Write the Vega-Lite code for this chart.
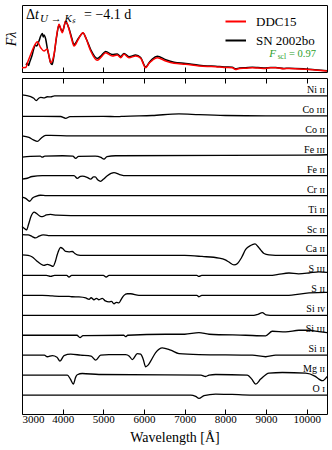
{
 "$schema": "https://vega.github.io/schema/vega-lite/v6.json",
 "padding": {"left": 3, "top": 4, "right": 4, "bottom": 0},
 "background": "white",
 "config": {
  "view": {"stroke": "black", "strokeWidth": 1},
  "font": "Liberation Serif",
  "axis": {"grid": false, "domain": false, "labelFont": "Liberation Serif", "titleFont": "Liberation Serif", "titleFontWeight": "normal", "labelColor": "black", "titleColor": "black", "tickColor": "black"},
  "concat": {"spacing": 2}
 },
 "datasets": {
  "spectra": [
   {"model":"DDC15","wl":3000,"flux":4.3},{"model":"DDC15","wl":3090,"flux":4.5},{"model":"DDC15","wl":3150,"flux":11},{"model":"DDC15","wl":3213,"flux":17.5},{"model":"DDC15","wl":3300,"flux":26},{"model":"DDC15","wl":3377,"flux":30.3},{"model":"DDC15","wl":3459,"flux":24.3},{"model":"DDC15","wl":3541,"flux":21},{"model":"DDC15","wl":3622,"flux":23},{"model":"DDC15","wl":3705,"flux":9.3},{"model":"DDC15","wl":3787,"flux":17.5},{"model":"DDC15","wl":3850,"flux":36},{"model":"DDC15","wl":3910,"flux":47.7},{"model":"DDC15","wl":3991,"flux":39.3},{"model":"DDC15","wl":4074,"flux":51},{"model":"DDC15","wl":4156,"flux":42.7},{"model":"DDC15","wl":4220,"flux":33},{"model":"DDC15","wl":4279,"flux":26},{"model":"DDC15","wl":4385,"flux":32.7},{"model":"DDC15","wl":4500,"flux":39.3},{"model":"DDC15","wl":4582,"flux":32.7},{"model":"DDC15","wl":4689,"flux":21},{"model":"DDC15","wl":4852,"flux":11.7},{"model":"DDC15","wl":4950,"flux":15},{"model":"DDC15","wl":5057,"flux":19.3},{"model":"DDC15","wl":5221,"flux":16},{"model":"DDC15","wl":5344,"flux":17},{"model":"DDC15","wl":5426,"flux":14.3},{"model":"DDC15","wl":5508,"flux":17.7},{"model":"DDC15","wl":5631,"flux":14.3},{"model":"DDC15","wl":5795,"flux":16},{"model":"DDC15","wl":5918,"flux":13.7},{"model":"DDC15","wl":6041,"flux":4.3},{"model":"DDC15","wl":6130,"flux":9},{"model":"DDC15","wl":6205,"flux":11.7},{"model":"DDC15","wl":6328,"flux":14.3},{"model":"DDC15","wl":6533,"flux":11},{"model":"DDC15","wl":6738,"flux":8.7},{"model":"DDC15","wl":7025,"flux":7.7},{"model":"DDC15","wl":7352,"flux":6},{"model":"DDC15","wl":7557,"flux":5.5},{"model":"DDC15","wl":7762,"flux":5.3},{"model":"DDC15","wl":7967,"flux":4.5},{"model":"DDC15","wl":8172,"flux":4.3},{"model":"DDC15","wl":8250,"flux":2.5},{"model":"DDC15","wl":8350,"flux":3.5},{"model":"DDC15","wl":8500,"flux":3.8},{"model":"DDC15","wl":8664,"flux":4.3},{"model":"DDC15","wl":8800,"flux":4},{"model":"DDC15","wl":8992,"flux":3.5},{"model":"DDC15","wl":9115,"flux":4.3},{"model":"DDC15","wl":9238,"flux":4.3},{"model":"DDC15","wl":9442,"flux":3.3},{"model":"DDC15","wl":9565,"flux":3.5},{"model":"DDC15","wl":9975,"flux":2.7},{"model":"DDC15","wl":10200,"flux":2},{"model":"DDC15","wl":10500,"flux":1},
   {"model":"SN 2002bo","wl":3100,"flux":7},{"model":"SN 2002bo","wl":3130,"flux":9},{"model":"SN 2002bo","wl":3160,"flux":6.5},{"model":"SN 2002bo","wl":3190,"flux":10},{"model":"SN 2002bo","wl":3213,"flux":12.5},{"model":"SN 2002bo","wl":3250,"flux":17},{"model":"SN 2002bo","wl":3295,"flux":24},{"model":"SN 2002bo","wl":3330,"flux":27},{"model":"SN 2002bo","wl":3360,"flux":26},{"model":"SN 2002bo","wl":3418,"flux":31},{"model":"SN 2002bo","wl":3460,"flux":36},{"model":"SN 2002bo","wl":3500,"flux":38.5},{"model":"SN 2002bo","wl":3520,"flux":35},{"model":"SN 2002bo","wl":3540,"flux":37},{"model":"SN 2002bo","wl":3582,"flux":33},{"model":"SN 2002bo","wl":3630,"flux":22},{"model":"SN 2002bo","wl":3664,"flux":16},{"model":"SN 2002bo","wl":3705,"flux":9},{"model":"SN 2002bo","wl":3740,"flux":7.5},{"model":"SN 2002bo","wl":3787,"flux":16.5},{"model":"SN 2002bo","wl":3850,"flux":35},{"model":"SN 2002bo","wl":3910,"flux":47},{"model":"SN 2002bo","wl":3950,"flux":43.5},{"model":"SN 2002bo","wl":3991,"flux":40.5},{"model":"SN 2002bo","wl":4074,"flux":50},{"model":"SN 2002bo","wl":4156,"flux":43.5},{"model":"SN 2002bo","wl":4220,"flux":34.5},{"model":"SN 2002bo","wl":4279,"flux":27.5},{"model":"SN 2002bo","wl":4385,"flux":33.5},{"model":"SN 2002bo","wl":4500,"flux":39},{"model":"SN 2002bo","wl":4582,"flux":33},{"model":"SN 2002bo","wl":4689,"flux":22.5},{"model":"SN 2002bo","wl":4852,"flux":13.5},{"model":"SN 2002bo","wl":4950,"flux":16.5},{"model":"SN 2002bo","wl":5057,"flux":20.5},{"model":"SN 2002bo","wl":5221,"flux":17.5},{"model":"SN 2002bo","wl":5344,"flux":18},{"model":"SN 2002bo","wl":5426,"flux":15.5},{"model":"SN 2002bo","wl":5508,"flux":18.5},{"model":"SN 2002bo","wl":5631,"flux":15.3},{"model":"SN 2002bo","wl":5795,"flux":17},{"model":"SN 2002bo","wl":5918,"flux":14.5},{"model":"SN 2002bo","wl":6041,"flux":5},{"model":"SN 2002bo","wl":6130,"flux":9.5},{"model":"SN 2002bo","wl":6205,"flux":13},{"model":"SN 2002bo","wl":6328,"flux":15.8},{"model":"SN 2002bo","wl":6533,"flux":12.3},{"model":"SN 2002bo","wl":6738,"flux":9.8},{"model":"SN 2002bo","wl":7025,"flux":8.6},{"model":"SN 2002bo","wl":7352,"flux":6.8},{"model":"SN 2002bo","wl":7557,"flux":6.1},{"model":"SN 2002bo","wl":7762,"flux":5.8},{"model":"SN 2002bo","wl":7967,"flux":5},{"model":"SN 2002bo","wl":8172,"flux":4.8},{"model":"SN 2002bo","wl":8250,"flux":3.2},{"model":"SN 2002bo","wl":8350,"flux":4},{"model":"SN 2002bo","wl":8500,"flux":4.3},{"model":"SN 2002bo","wl":8664,"flux":4.7},{"model":"SN 2002bo","wl":8800,"flux":4.4},{"model":"SN 2002bo","wl":8992,"flux":3.9},{"model":"SN 2002bo","wl":9115,"flux":4.6},{"model":"SN 2002bo","wl":9238,"flux":4.6},{"model":"SN 2002bo","wl":9442,"flux":3.6},{"model":"SN 2002bo","wl":9565,"flux":3.8},{"model":"SN 2002bo","wl":9975,"flux":3},{"model":"SN 2002bo","wl":10200,"flux":2.3},{"model":"SN 2002bo","wl":10500,"flux":1.3}
  ],
  "ions": [
   {"ion":"Ni II","wl":3000,"f":16.05},{"ion":"Ni II","wl":3150,"f":16.0},{"ion":"Ni II","wl":3213,"f":15.97},{"ion":"Ni II","wl":3290,"f":15.88},{"ion":"Ni II","wl":3352,"f":15.77},{"ion":"Ni II","wl":3420,"f":15.9},{"ion":"Ni II","wl":3460,"f":15.93},{"ion":"Ni II","wl":3540,"f":15.9},{"ion":"Ni II","wl":3622,"f":15.96},{"ion":"Ni II","wl":3705,"f":15.95},{"ion":"Ni II","wl":3800,"f":16},{"ion":"Ni II","wl":4000,"f":16},{"ion":"Ni II","wl":10500,"f":16},
   {"ion":"Co III","wl":3000,"f":14.98},{"ion":"Co III","wl":3500,"f":14.98},{"ion":"Co III","wl":3950,"f":14.97},{"ion":"Co III","wl":4074,"f":14.88},{"ion":"Co III","wl":4180,"f":14.96},{"ion":"Co III","wl":5000,"f":14.98},{"ion":"Co III","wl":5361,"f":14.96},{"ion":"Co III","wl":5500,"f":14.98},{"ion":"Co III","wl":6200,"f":15.02},{"ion":"Co III","wl":6860,"f":15.1},{"ion":"Co III","wl":7352,"f":15.06},{"ion":"Co III","wl":8000,"f":15.02},{"ion":"Co III","wl":9000,"f":15.0},{"ion":"Co III","wl":10500,"f":15.0},
   {"ion":"Co II","wl":3000,"f":14.0},{"ion":"Co II","wl":3172,"f":13.92},{"ion":"Co II","wl":3280,"f":13.8},{"ion":"Co II","wl":3377,"f":13.72},{"ion":"Co II","wl":3470,"f":13.88},{"ion":"Co II","wl":3582,"f":14.02},{"ion":"Co II","wl":3700,"f":14.02},{"ion":"Co II","wl":4200,"f":14},{"ion":"Co II","wl":10500,"f":14},
   {"ion":"Fe III","wl":3000,"f":12.93},{"ion":"Fe III","wl":3200,"f":12.97},{"ion":"Fe III","wl":3450,"f":12.98},{"ion":"Fe III","wl":3500,"f":12.93},{"ion":"Fe III","wl":3560,"f":12.98},{"ion":"Fe III","wl":4000,"f":13},{"ion":"Fe III","wl":4250,"f":12.98},{"ion":"Fe III","wl":4320,"f":12.87},{"ion":"Fe III","wl":4390,"f":12.97},{"ion":"Fe III","wl":4800,"f":12.98},{"ion":"Fe III","wl":4940,"f":12.92},{"ion":"Fe III","wl":5016,"f":12.83},{"ion":"Fe III","wl":5090,"f":12.96},{"ion":"Fe III","wl":5300,"f":13},{"ion":"Fe III","wl":10000,"f":13.03},{"ion":"Fe III","wl":10500,"f":13.05},
   {"ion":"Fe II","wl":3000,"f":11.83},{"ion":"Fe II","wl":3100,"f":11.86},{"ion":"Fe II","wl":3253,"f":11.96},{"ion":"Fe II","wl":3500,"f":12},{"ion":"Fe II","wl":4279,"f":12},{"ion":"Fe II","wl":4360,"f":11.87},{"ion":"Fe II","wl":4440,"f":11.97},{"ion":"Fe II","wl":4483,"f":11.98},{"ion":"Fe II","wl":4600,"f":11.92},{"ion":"Fe II","wl":4689,"f":11.83},{"ion":"Fe II","wl":4760,"f":11.94},{"ion":"Fe II","wl":4800,"f":11.94},{"ion":"Fe II","wl":4860,"f":11.8},{"ion":"Fe II","wl":4935,"f":11.72},{"ion":"Fe II","wl":5000,"f":11.82},{"ion":"Fe II","wl":5098,"f":12.0},{"ion":"Fe II","wl":5262,"f":12.15},{"ion":"Fe II","wl":5400,"f":12.06},{"ion":"Fe II","wl":5550,"f":12.0},{"ion":"Fe II","wl":10500,"f":12},
   {"ion":"Cr II","wl":3000,"f":10.93},{"ion":"Cr II","wl":3080,"f":10.88},{"ion":"Cr II","wl":3190,"f":10.72},{"ion":"Cr II","wl":3260,"f":10.88},{"ion":"Cr II","wl":3340,"f":10.96},{"ion":"Cr II","wl":3450,"f":11.02},{"ion":"Cr II","wl":3600,"f":11.0},{"ion":"Cr II","wl":10500,"f":11},
   {"ion":"Ti II","wl":3000,"f":9.45},{"ion":"Ti II","wl":3060,"f":9.35},{"ion":"Ti II","wl":3110,"f":9.28},{"ion":"Ti II","wl":3160,"f":9.55},{"ion":"Ti II","wl":3220,"f":9.95},{"ion":"Ti II","wl":3300,"f":10.17},{"ion":"Ti II","wl":3350,"f":10.12},{"ion":"Ti II","wl":3450,"f":9.96},{"ion":"Ti II","wl":3500,"f":9.95},{"ion":"Ti II","wl":3600,"f":10.03},{"ion":"Ti II","wl":3700,"f":10.06},{"ion":"Ti II","wl":3850,"f":10.02},{"ion":"Ti II","wl":4200,"f":10},{"ion":"Ti II","wl":10500,"f":10},
   {"ion":"Sc II","wl":3000,"f":9.05},{"ion":"Sc II","wl":3150,"f":9.03},{"ion":"Sc II","wl":3250,"f":8.95},{"ion":"Sc II","wl":3330,"f":8.88},{"ion":"Sc II","wl":3420,"f":8.97},{"ion":"Sc II","wl":3520,"f":9.03},{"ion":"Sc II","wl":3650,"f":9.0},{"ion":"Sc II","wl":10500,"f":9},
   {"ion":"Ca II","wl":3000,"f":8.03},{"ion":"Ca II","wl":3150,"f":8.0},{"ion":"Ca II","wl":3253,"f":7.92},{"ion":"Ca II","wl":3350,"f":7.75},{"ion":"Ca II","wl":3460,"f":7.57},{"ion":"Ca II","wl":3540,"f":7.5},{"ion":"Ca II","wl":3622,"f":7.55},{"ion":"Ca II","wl":3705,"f":7.5},{"ion":"Ca II","wl":3762,"f":7.45},{"ion":"Ca II","wl":3820,"f":7.7},{"ion":"Ca II","wl":3868,"f":8.05},{"ion":"Ca II","wl":3950,"f":8.4},{"ion":"Ca II","wl":4000,"f":8.35},{"ion":"Ca II","wl":4074,"f":8.2},{"ion":"Ca II","wl":4156,"f":8.18},{"ion":"Ca II","wl":4237,"f":8.2},{"ion":"Ca II","wl":4300,"f":8.1},{"ion":"Ca II","wl":4360,"f":8.03},{"ion":"Ca II","wl":4500,"f":8},{"ion":"Ca II","wl":7000,"f":8},{"ion":"Ca II","wl":7426,"f":7.95},{"ion":"Ca II","wl":7844,"f":7.87},{"ion":"Ca II","wl":8000,"f":7.78},{"ion":"Ca II","wl":8090,"f":7.67},{"ion":"Ca II","wl":8213,"f":7.53},{"ion":"Ca II","wl":8300,"f":7.6},{"ion":"Ca II","wl":8400,"f":7.9},{"ion":"Ca II","wl":8500,"f":8.3},{"ion":"Ca II","wl":8620,"f":8.5},{"ion":"Ca II","wl":8729,"f":8.58},{"ion":"Ca II","wl":8800,"f":8.45},{"ion":"Ca II","wl":8868,"f":8.28},{"ion":"Ca II","wl":8950,"f":8.1},{"ion":"Ca II","wl":9073,"f":8.03},{"ion":"Ca II","wl":9390,"f":8},{"ion":"Ca II","wl":10500,"f":8},
   {"ion":"S III","wl":3000,"f":7},{"ion":"S III","wl":3600,"f":7},{"ion":"S III","wl":3705,"f":6.95},{"ion":"S III","wl":3800,"f":7},{"ion":"S III","wl":4100,"f":7},{"ion":"S III","wl":4156,"f":6.92},{"ion":"S III","wl":4220,"f":7},{"ion":"S III","wl":5000,"f":7},{"ion":"S III","wl":5070,"f":6.92},{"ion":"S III","wl":5140,"f":7},{"ion":"S III","wl":7300,"f":7},{"ion":"S III","wl":7352,"f":6.95},{"ion":"S III","wl":7420,"f":7},{"ion":"S III","wl":9100,"f":7},{"ion":"S III","wl":9300,"f":7.05},{"ion":"S III","wl":9565,"f":7.12},{"ion":"S III","wl":9800,"f":7.08},{"ion":"S III","wl":10057,"f":7.12},{"ion":"S III","wl":10300,"f":7.18},{"ion":"S III","wl":10500,"f":7.15},
   {"ion":"S II","wl":3000,"f":6},{"ion":"S II","wl":3500,"f":6.0},{"ion":"S II","wl":3745,"f":5.97},{"ion":"S II","wl":3991,"f":5.95},{"ion":"S II","wl":4156,"f":5.95},{"ion":"S II","wl":4237,"f":5.93},{"ion":"S II","wl":4400,"f":5.92},{"ion":"S II","wl":4566,"f":5.87},{"ion":"S II","wl":4650,"f":5.8},{"ion":"S II","wl":4700,"f":5.88},{"ion":"S II","wl":4770,"f":5.78},{"ion":"S II","wl":4830,"f":5.85},{"ion":"S II","wl":4893,"f":5.78},{"ion":"S II","wl":4975,"f":5.85},{"ion":"S II","wl":5050,"f":5.72},{"ion":"S II","wl":5139,"f":5.67},{"ion":"S II","wl":5200,"f":5.7},{"ion":"S II","wl":5262,"f":5.58},{"ion":"S II","wl":5320,"f":5.65},{"ion":"S II","wl":5385,"f":5.62},{"ion":"S II","wl":5440,"f":5.8},{"ion":"S II","wl":5508,"f":6.0},{"ion":"S II","wl":5590,"f":6.08},{"ion":"S II","wl":5672,"f":6.08},{"ion":"S II","wl":5877,"f":6.0},{"ion":"S II","wl":7300,"f":6},{"ion":"S II","wl":7352,"f":5.93},{"ion":"S II","wl":7420,"f":6},{"ion":"S II","wl":9500,"f":6},{"ion":"S II","wl":10057,"f":6.12},{"ion":"S II","wl":10467,"f":6.15},{"ion":"S II","wl":10500,"f":6.15},
   {"ion":"Si IV","wl":3000,"f":5},{"ion":"Si IV","wl":8700,"f":5},{"ion":"Si IV","wl":8800,"f":5.05},{"ion":"Si IV","wl":8910,"f":5.13},{"ion":"Si IV","wl":9000,"f":5.02},{"ion":"Si IV","wl":9100,"f":5},{"ion":"Si IV","wl":10500,"f":5},
   {"ion":"Si III","wl":3000,"f":4},{"ion":"Si III","wl":4350,"f":4},{"ion":"Si III","wl":4426,"f":3.88},{"ion":"Si III","wl":4500,"f":3.98},{"ion":"Si III","wl":5500,"f":4},{"ion":"Si III","wl":5548,"f":3.93},{"ion":"Si III","wl":5600,"f":4},{"ion":"Si III","wl":6533,"f":4.05},{"ion":"Si III","wl":7000,"f":4.05},{"ion":"Si III","wl":7352,"f":4.13},{"ion":"Si III","wl":7600,"f":4.05},{"ion":"Si III","wl":8500,"f":4.0},{"ion":"Si III","wl":8992,"f":3.97},{"ion":"Si III","wl":9155,"f":4.2},{"ion":"Si III","wl":9484,"f":4.17},{"ion":"Si III","wl":9811,"f":4.25},{"ion":"Si III","wl":10057,"f":4.25},{"ion":"Si III","wl":10300,"f":4.18},{"ion":"Si III","wl":10500,"f":4.13},
   {"ion":"Si II","wl":3000,"f":3},{"ion":"Si II","wl":3550,"f":3},{"ion":"Si II","wl":3622,"f":2.92},{"ion":"Si II","wl":3745,"f":2.98},{"ion":"Si II","wl":3860,"f":2.9},{"ion":"Si II","wl":3934,"f":2.7},{"ion":"Si II","wl":4033,"f":2.98},{"ion":"Si II","wl":4197,"f":3.05},{"ion":"Si II","wl":4443,"f":3.0},{"ion":"Si II","wl":4700,"f":2.95},{"ion":"Si II","wl":4812,"f":2.75},{"ion":"Si II","wl":4935,"f":3.0},{"ion":"Si II","wl":5139,"f":3.03},{"ion":"Si II","wl":5549,"f":3.03},{"ion":"Si II","wl":5640,"f":2.95},{"ion":"Si II","wl":5713,"f":2.78},{"ion":"Si II","wl":5836,"f":3.08},{"ion":"Si II","wl":5918,"f":3.05},{"ion":"Si II","wl":5980,"f":2.8},{"ion":"Si II","wl":6041,"f":2.42},{"ion":"Si II","wl":6100,"f":2.5},{"ion":"Si II","wl":6164,"f":2.7},{"ion":"Si II","wl":6287,"f":3.13},{"ion":"Si II","wl":6450,"f":3.37},{"ion":"Si II","wl":6656,"f":3.25},{"ion":"Si II","wl":6860,"f":3.08},{"ion":"Si II","wl":7352,"f":3.03},{"ion":"Si II","wl":8664,"f":3},{"ion":"Si II","wl":8992,"f":2.92},{"ion":"Si II","wl":9238,"f":3},{"ion":"Si II","wl":10500,"f":3},
   {"ion":"Mg II","wl":3000,"f":2},{"ion":"Mg II","wl":4115,"f":2},{"ion":"Mg II","wl":4190,"f":1.8},{"ion":"Mg II","wl":4262,"f":1.55},{"ion":"Mg II","wl":4320,"f":1.9},{"ion":"Mg II","wl":4360,"f":2.02},{"ion":"Mg II","wl":4483,"f":2.08},{"ion":"Mg II","wl":4893,"f":2.03},{"ion":"Mg II","wl":7400,"f":2},{"ion":"Mg II","wl":7516,"f":1.93},{"ion":"Mg II","wl":7600,"f":2},{"ion":"Mg II","wl":7762,"f":2.03},{"ion":"Mg II","wl":8541,"f":2},{"ion":"Mg II","wl":8650,"f":1.8},{"ion":"Mg II","wl":8746,"f":1.55},{"ion":"Mg II","wl":8869,"f":1.8},{"ion":"Mg II","wl":9073,"f":2.1},{"ion":"Mg II","wl":9401,"f":2.13},{"ion":"Mg II","wl":9975,"f":2.1},{"ion":"Mg II","wl":10200,"f":1.95},{"ion":"Mg II","wl":10303,"f":1.8},{"ion":"Mg II","wl":10385,"f":1.72},{"ion":"Mg II","wl":10500,"f":1.93},
   {"ion":"O I","wl":3000,"f":1},{"ion":"O I","wl":7150,"f":1},{"ion":"O I","wl":7270,"f":0.93},{"ion":"O I","wl":7352,"f":0.83},{"ion":"O I","wl":7475,"f":0.97},{"ion":"O I","wl":7762,"f":1.05},{"ion":"O I","wl":8163,"f":1.03},{"ion":"O I","wl":8600,"f":1},{"ion":"O I","wl":10500,"f":1}
  ],
  "labels": [
   {"label":"Ni ɪɪ","level":16},{"label":"Co ɪɪɪ","level":15},{"label":"Co ɪɪ","level":14},{"label":"Fe ɪɪɪ","level":13},{"label":"Fe ɪɪ","level":12},{"label":"Cr ɪɪ","level":11},{"label":"Ti ɪɪ","level":10},{"label":"Sc ɪɪ","level":9},{"label":"Ca ɪɪ","level":8},{"label":"S ɪɪɪ","level":7},{"label":"S ɪɪ","level":6},{"label":"Si ɪᴠ","level":5},{"label":"Si ɪɪɪ","level":4},{"label":"Si ɪɪ","level":3},{"label":"Mg ɪɪ","level":2},{"label":"O ɪ","level":1}
  ]
 },
 "vconcat": [
  {
   "width": 305, "height": 67,
   "layer": [
    {
     "data": {"name": "spectra"},
     "transform": [{"filter": "datum.model === 'SN 2002bo'"}],
     "mark": {"type": "line", "strokeWidth": 1.5, "interpolate": "monotone"},
     "encoding": {
      "x": {"field": "wl", "type": "quantitative", "scale": {"domain": [3000, 10500], "nice": false, "zero": false}, "axis": {"title": null, "labels": false, "tickSize": -5, "values": [3000,4000,5000,6000,7000,8000,9000,10000]}},
      "y": {"field": "flux", "type": "quantitative", "scale": {"domain": [0, 67], "nice": false}, "axis": {"title": "Fλ", "ticks": false, "labels": false, "titleFontStyle": "italic", "titleFontSize": 14, "titlePadding": 4}},
      "color": {"field": "model", "type": "nominal", "scale": {"domain": ["DDC15", "SN 2002bo"], "range": ["#ff0000", "#000000"]}, "legend": {"title": null, "orient": "none", "legendX": 203.5, "legendY": 10, "symbolType": "M-2,0H2", "symbolSize": 169, "symbolStrokeWidth": 2, "symbolFillColor": "transparent", "labelFontSize": 13, "labelFont": "Liberation Serif", "labelColor": "black", "labelOffset": 15.5, "clipHeight": 13, "rowPadding": 5, "padding": 0}}
     }
    },
    {
     "data": {"name": "spectra"},
     "transform": [{"filter": "datum.model === 'DDC15'"}],
     "mark": {"type": "line", "strokeWidth": 1.5, "interpolate": "monotone"},
     "encoding": {
      "x": {"field": "wl", "type": "quantitative"},
      "y": {"field": "flux", "type": "quantitative"},
      "color": {"field": "model", "type": "nominal"}
     }
    },
    {
     "data": {"values": [{}]},
     "mark": {"type": "text", "align": "left", "baseline": "middle", "fontSize": 14, "text": "Δ"},
     "encoding": {"x": {"datum": 3098, "type": "quantitative"}, "y": {"datum": 57, "type": "quantitative"}}
    },
    {
     "data": {"values": [{}]},
     "mark": {"type": "text", "align": "left", "baseline": "middle", "fontSize": 14, "fontStyle": "italic", "text": "t", "dx": 9},
     "encoding": {"x": {"datum": 3098, "type": "quantitative"}, "y": {"datum": 57, "type": "quantitative"}}
    },
    {
     "data": {"values": [{}]},
     "mark": {"type": "text", "align": "left", "baseline": "middle", "fontSize": 11, "fontStyle": "italic", "text": "U → Kₛ", "dx": 14, "dy": 4},
     "encoding": {"x": {"datum": 3098, "type": "quantitative"}, "y": {"datum": 57, "type": "quantitative"}}
    },
    {
     "data": {"values": [{}]},
     "mark": {"type": "text", "align": "left", "baseline": "middle", "fontSize": 14, "text": "= −4.1 d", "dx": 58},
     "encoding": {"x": {"datum": 3098, "type": "quantitative"}, "y": {"datum": 57, "type": "quantitative"}}
    },
    {
     "data": {"values": [{}]},
     "mark": {"type": "text", "align": "right", "baseline": "middle", "fontSize": 10.5, "color": "#2ca02c", "text": "= 0.97"},
     "encoding": {"x": {"datum": 10229, "type": "quantitative"}, "y": {"datum": 18, "type": "quantitative"}}
    },
    {
     "data": {"values": [{}]},
     "mark": {"type": "text", "align": "right", "baseline": "middle", "fontSize": 7.5, "color": "#2ca02c", "text": "scl", "dx": -30, "dy": 3},
     "encoding": {"x": {"datum": 10229, "type": "quantitative"}, "y": {"datum": 18, "type": "quantitative"}}
    },
    {
     "data": {"values": [{}]},
     "mark": {"type": "text", "align": "right", "baseline": "middle", "fontSize": 11, "fontStyle": "italic", "color": "#2ca02c", "text": "F", "dx": -40},
     "encoding": {"x": {"datum": 10229, "type": "quantitative"}, "y": {"datum": 18, "type": "quantitative"}}
    }
   ]
  },
  {
   "width": 305, "height": 336,
   "layer": [
    {
     "data": {"name": "ions"},
     "mark": {"type": "line", "color": "black", "strokeWidth": 1.3, "interpolate": "monotone"},
     "encoding": {
      "x": {"field": "wl", "type": "quantitative", "scale": {"domain": [3000, 10500], "nice": false, "zero": false}, "axis": {"orient": "bottom", "title": "Wavelength [Å]", "format": "d", "titleFontSize": 14, "labelFontSize": 11, "tickSize": -5, "labelPadding": 4, "titlePadding": 6, "values": [3000,4000,5000,6000,7000,8000,9000,10000]}},
      "y": {"field": "f", "type": "quantitative", "scale": {"domain": [0.05, 16.9], "nice": false, "zero": false}, "axis": {"title": "Fλ,All / Fλ,less + Const.", "ticks": false, "labels": false, "titleFontSize": 14, "titlePadding": 4}},
      "detail": {"field": "ion", "type": "nominal"}
     }
    },
    {
     "data": {"name": "labels"},
     "mark": {"type": "text", "align": "right", "baseline": "bottom", "dy": -1, "fontSize": 10},
     "encoding": {
      "x": {"datum": 10450, "type": "quantitative", "axis": {"orient": "top", "title": null, "labels": false, "tickSize": -5, "values": [3000,4000,5000,6000,7000,8000,9000,10000]}},
      "y": {"field": "level", "type": "quantitative", "axis": null},
      "text": {"field": "label"}
     }
    }
   ],
   "resolve": {"axis": {"x": "independent"}}
  }
 ]
}
